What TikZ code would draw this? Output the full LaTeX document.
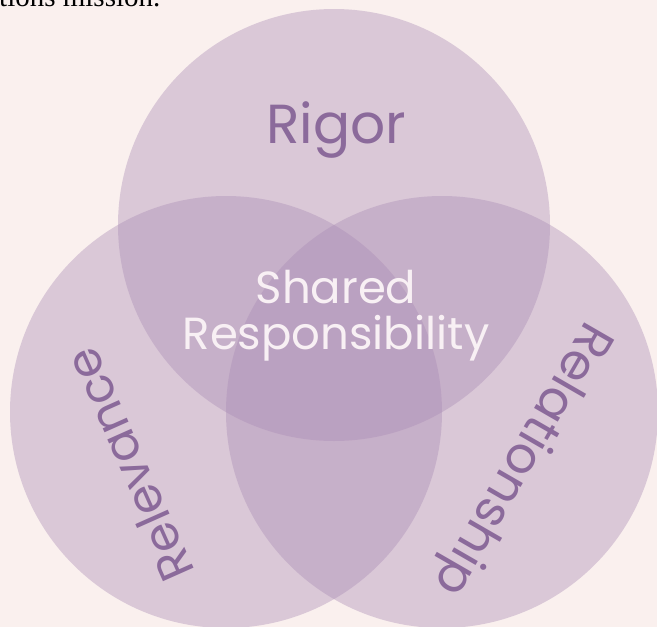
\documentclass[tikz,border=0pt]{standalone}
\usepackage{fontspec}
\setmainfont{Liberation Serif}
\newfontfamily\handfont{Poppins}
\definecolor{bgc}{RGB}{250,240,238}
\definecolor{circc}{RGB}{170,140,181}
\definecolor{labc}{RGB}{139,106,155}
\definecolor{whitec}{RGB}{248,240,244}
\tikzset{
  vcircle/.style={circle, fill=circc, fill opacity=0.4, draw=none, minimum size=432pt, inner sep=0pt},
  outerlab/.style={font=\handfont\fontsize{50}{54}\selectfont, text=labc, inner sep=0pt},
  centerlab/.style={font=\handfont\fontsize{45}{46}\selectfont, text=whitec, align=center, inner sep=0pt}
}
\begin{document}
\begin{tikzpicture}[x=1pt,y=-1pt]
\useasboundingbox (0,0) rectangle (657,627);
\fill[bgc] (0,0) rectangle (657,627);
\clip (0,0) rectangle (657,627);
\node[anchor=base west, inner sep=0pt, font=\fontsize{29}{32}\selectfont, text=black] (intro) at (-1,6) {tions mission.};
\node[vcircle] (top) at (334,225) {};
\node[vcircle] (left) at (226,412) {};
\node[vcircle] (right) at (442,412) {};
\node[outerlab, font=\handfont\fontsize{55}{58}\selectfont] (rigor) at (336,130) {Rigor};
\node[centerlab] (shared) at (336,316) {Shared\\Responsibility};
\node[outerlab, rotate=-120] (relship) at (521,458) {Relationship};
\node[outerlab, font=\handfont\fontsize{48}{52}\selectfont, rotate=114] (relev) at (129,465) {Relevance};
\end{tikzpicture}
\end{document}
